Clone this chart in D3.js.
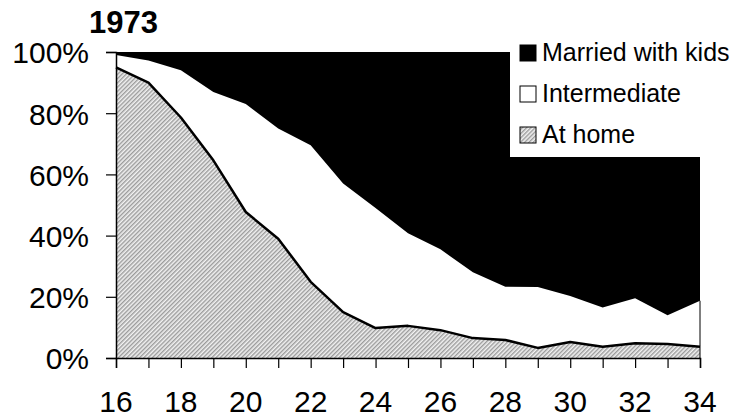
<!DOCTYPE html>
<meta charset="utf-8">
<head>
<title>1973 living arrangements</title>
<script src="https://cdn.jsdelivr.net/npm/d3@7"></script>
<style>
  body { margin: 0; background: #fff; }
  text { font-family: Arial, "Liberation Sans", sans-serif; }
</style>
</head>
<body>

<div id="chart"></div>

<script>

const width = 739;
const height = 420;

// shares (%), by age
const ages = [16, 17, 18, 19, 20, 21, 22, 23, 24, 25, 26, 27, 28, 29, 30, 31, 32, 33, 34];
const atHome = [95, 90, 78.6, 64.6, 47.7, 39, 24.9, 15, 9.8, 10.5, 9.1, 6.5, 5.9, 3.3, 5.2, 3.7, 4.8, 4.6, 3.7];
const intermediate = [4, 7.2, 15.4, 22.3, 35.3, 36, 44.6, 42, 39.2, 30.3, 26.4, 21.5, 17.4, 19.9, 15.1, 12.8, 14.7, 9.4, 15];
const married = [1, 2.8, 6, 13.1, 17, 25, 30.5, 43, 51, 59.2, 64.5, 72, 76.7, 76.8, 79.7, 83.5, 80.5, 86, 81.3];

const yTicks = [0, 20, 40, 60, 80, 100];
const xTicks = [16, 18, 20, 22, 24, 26, 28, 30, 32, 34];
const legendItems = ["Married with kids", "Intermediate", "At home"];

const margin = {top: 52, right: 39, bottom: 62, left: 116};

const table = ages.map((a, i) => ({age: a, home: atHome[i], mid: intermediate[i], married: married[i]}));
const series = d3.stack().keys(["home", "mid", "married"])(table);

const x = d3.scaleLinear().domain([16, 34]).range([margin.left, width - margin.right]);
const y = d3.scaleLinear().domain([0, 100]).range([height - margin.bottom, margin.top]);

const svg = d3.select("#chart")
  .append("svg")
  .attr("width", width)
  .attr("height", height)
  .attr("viewBox", [0, 0, width, height]);

const defs = svg.append("defs");
const pat = defs.append("pattern")
  .attr("id", "hatch")
  .attr("patternUnits", "userSpaceOnUse")
  .attr("width", 3)
  .attr("height", 3)
  .attr("patternTransform", "rotate(45)");
pat.append("rect").attr("width", 3).attr("height", 3).attr("fill", "#f2f2f2");
pat.append("line").attr("x1", 0.75).attr("x2", 0.75).attr("y1", 0).attr("y2", 3)
  .attr("stroke", "#8c8c8c").attr("stroke-width", 1.2);

const area = d3.area()
  .x(d => x(d.data.age))
  .y0(d => y(d[0]))
  .y1(d => y(d[1]));

const fills = {home: "url(#hatch)", mid: "#fff", married: "#000"};

svg.append("g")
  .selectAll("path")
  .data(series)
  .join("path")
    .attr("d", area)
    .attr("fill", d => fills[d.key]);

// right edge of the lower two bands
const last = series[1][series[1].length - 1];
svg.append("line")
  .attr("x1", x(34)).attr("x2", x(34))
  .attr("y1", y(last[1])).attr("y2", y(0))
  .attr("stroke", "#000").attr("stroke-width", 1);

// top line of "at home"
svg.append("path")
  .datum(series[0])
  .attr("d", d3.line().x(d => x(d.data.age)).y(d => y(d[1])))
  .attr("fill", "none")
  .attr("stroke", "#000")
  .attr("stroke-width", 2.5)
  .attr("stroke-linejoin", "round");

// legend box
const lg = svg.append("g");
lg.append("rect")
  .attr("x", 510).attr("y", 24)
  .attr("width", width - 510).attr("height", 133)
  .attr("fill", "#fff");

const legFill = ["#000", "#fff", "url(#hatch)"];
legendItems.forEach((t, i) => {
  const yy = 45 + i * 41;
  lg.append("rect")
    .attr("x", 520).attr("y", yy)
    .attr("width", 16).attr("height", 16)
    .attr("fill", legFill[i])
    .attr("stroke", "#000")
    .attr("stroke-width", 1);
  lg.append("text")
    .attr("x", 542).attr("y", yy + 16)
    .style("font-size", "25px")
    .text(t);
});

// axes
const yAxis = svg.append("g")
  .attr("transform", `translate(${margin.left},0)`)
  .call(d3.axisLeft(y).tickValues(yTicks).tickSize(10).tickFormat(d => d + "%"));
yAxis.select(".domain").attr("stroke", "#000").attr("stroke-width", 1.5);
yAxis.selectAll(".tick line").attr("stroke", "#000").attr("stroke-width", 1.2);
yAxis.selectAll(".tick text")
  .attr("x", -27)
  .attr("dy", "0.36em")
  .style("font-size", "30px")
  .attr("fill", "#000");

const xAxis = svg.append("g")
  .attr("transform", `translate(0,${height - margin.bottom})`)
  .call(d3.axisBottom(x).tickValues(ages).tickSize(10).tickFormat(""));
xAxis.select(".domain").attr("stroke", "#000").attr("stroke-width", 1.5);
xAxis.selectAll(".tick line").attr("stroke", "#000").attr("stroke-width", 1.2);

svg.append("g")
  .selectAll("text")
  .data(xTicks)
  .join("text")
    .attr("x", d => x(d))
    .attr("y", height - margin.bottom + 54)
    .attr("text-anchor", "middle")
    .style("font-size", "30px")
    .text(d => d);

svg.append("text")
  .attr("x", 89)
  .attr("y", 33)
  .style("font-size", "31px")
  .style("font-weight", "bold")
  .text("1973");

</script>

</body>
